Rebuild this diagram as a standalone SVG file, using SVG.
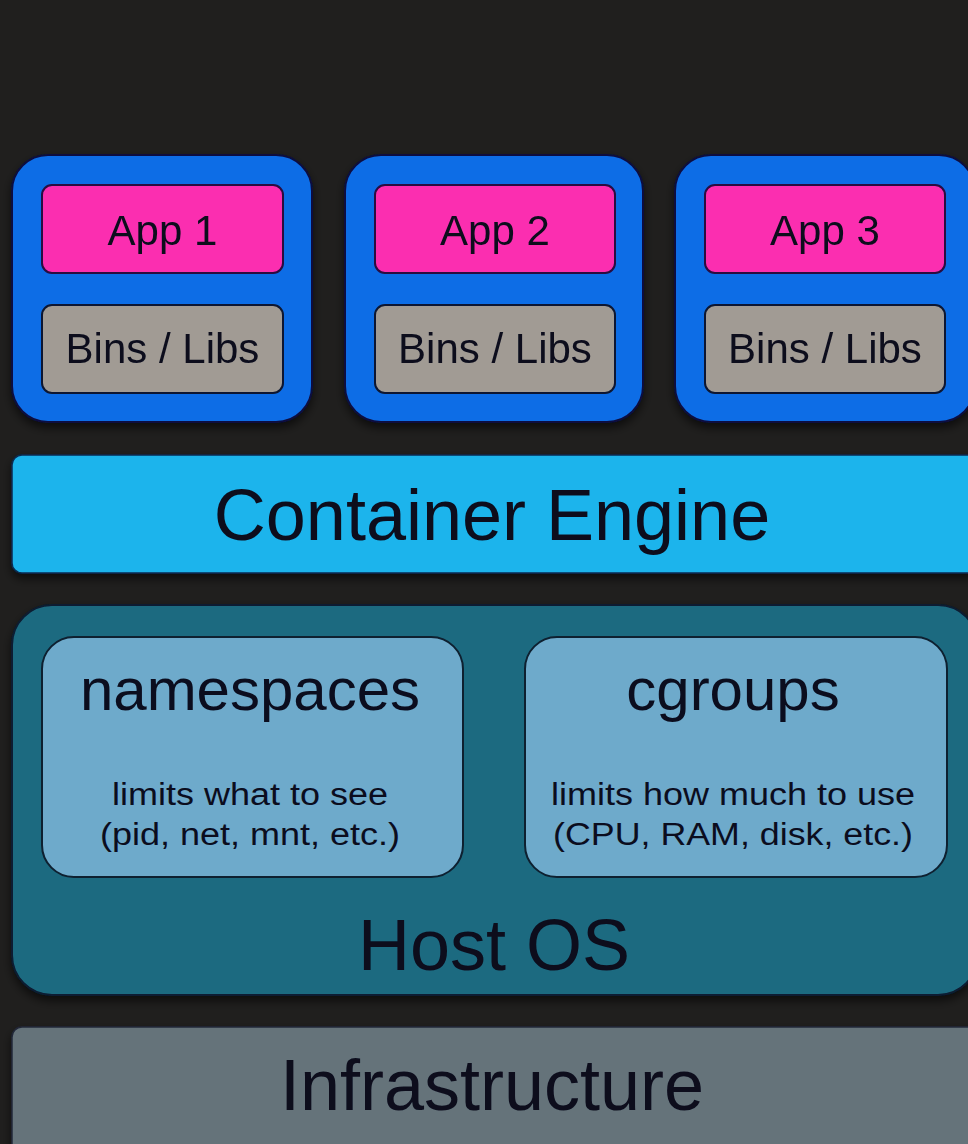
<svg xmlns="http://www.w3.org/2000/svg" width="968" height="1144" viewBox="0 0 968 1144">
  <defs>
    <filter id="shadow" x="-10%" y="-10%" width="120%" height="130%">
      <feGaussianBlur in="SourceAlpha" stdDeviation="5"/>
      <feOffset dx="0" dy="5" result="b"/>
      <feComponentTransfer><feFuncA type="linear" slope="0.6"/></feComponentTransfer>
      <feMerge><feMergeNode/><feMergeNode in="SourceGraphic"/></feMerge>
    </filter>
    <style>
      text { font-family: "Liberation Sans", Arial, sans-serif; fill: #0b0d1e; text-anchor: middle; }
      .container { fill: #0b6de6; stroke: #0a1040; stroke-width: 2; }
      .app { fill: #fb2fb0; stroke: #2a0a40; stroke-width: 2; }
      .libs { fill: #a19b94; stroke: #0e1830; stroke-width: 2; }
      .engine { fill: #1bb4ec; stroke: #0a2a50; stroke-width: 1.5; }
      .host { fill: #1e6a80; stroke: #0a1c30; stroke-width: 2; }
      .feature { fill: #6eaacb; stroke: #0e2030; stroke-width: 2; }
      .infra { fill: #65737a; stroke: #202838; stroke-width: 1.5; }
      .t42 { font-size: 42px; }
      .t60 { font-size: 60px; }
      .t72 { font-size: 72px; }
      .small { font-size: 31px; }
    </style>
  </defs>

  <rect x="0" y="0" width="968" height="1144" fill="#201f1e"/>

  <!-- application containers -->
  <g id="container-1" filter="url(#shadow)">
    <rect class="container" x="12" y="155" width="300" height="267" rx="36"/>
    <rect class="app" x="42" y="185" width="241" height="88" rx="10"/>
    <text class="t42" x="162.5" y="245">App 1</text>
    <rect class="libs" x="42" y="305" width="241" height="88" rx="10"/>
    <text class="t42" x="162.5" y="363">Bins / Libs</text>
  </g>
  <g id="container-2" filter="url(#shadow)">
    <rect class="container" x="345" y="155" width="298" height="267" rx="36"/>
    <rect class="app" x="375" y="185" width="240" height="88" rx="10"/>
    <text class="t42" x="495" y="245">App 2</text>
    <rect class="libs" x="375" y="305" width="240" height="88" rx="10"/>
    <text class="t42" x="495" y="363">Bins / Libs</text>
  </g>
  <g id="container-3" filter="url(#shadow)">
    <rect class="container" x="675" y="155" width="300" height="267" rx="36"/>
    <rect class="app" x="705" y="185" width="240" height="88" rx="10"/>
    <text class="t42" x="825" y="245">App 3</text>
    <rect class="libs" x="705" y="305" width="240" height="88" rx="10"/>
    <text class="t42" x="825" y="363">Bins / Libs</text>
  </g>

  <!-- container engine layer -->
  <g id="container-engine" filter="url(#shadow)">
    <rect class="engine" x="12" y="455" width="966" height="118" rx="10"/>
    <text class="t72" x="492" y="540">Container Engine</text>
  </g>

  <!-- host operating system with kernel features -->
  <g id="host-os" filter="url(#shadow)">
    <rect class="host" x="12" y="605" width="966" height="390" rx="40"/>
    <text class="t72" x="494" y="970">Host OS</text>
  </g>
  <g id="namespaces">
    <rect class="feature" x="42" y="637" width="421" height="240" rx="32"/>
    <text class="t60" x="250" y="710">namespaces</text>
    <text class="small" x="250" y="805" textLength="276" lengthAdjust="spacingAndGlyphs">limits what to see</text>
    <text class="small" x="250" y="845" textLength="300" lengthAdjust="spacingAndGlyphs">(pid, net, mnt, etc.)</text>
  </g>
  <g id="cgroups">
    <rect class="feature" x="525" y="637" width="422" height="240" rx="32"/>
    <text class="t60" x="733" y="710">cgroups</text>
    <text class="small" x="733" y="805" textLength="364" lengthAdjust="spacingAndGlyphs">limits how much to use</text>
    <text class="small" x="733" y="845" textLength="360" lengthAdjust="spacingAndGlyphs">(CPU, RAM, disk, etc.)</text>
  </g>

  <!-- infrastructure layer -->
  <g id="infrastructure" filter="url(#shadow)">
    <rect class="infra" x="12" y="1027" width="966" height="140" rx="10"/>
    <text class="t72" x="492" y="1110">Infrastructure</text>
  </g>

  <g id="connectors"/>
</svg>
